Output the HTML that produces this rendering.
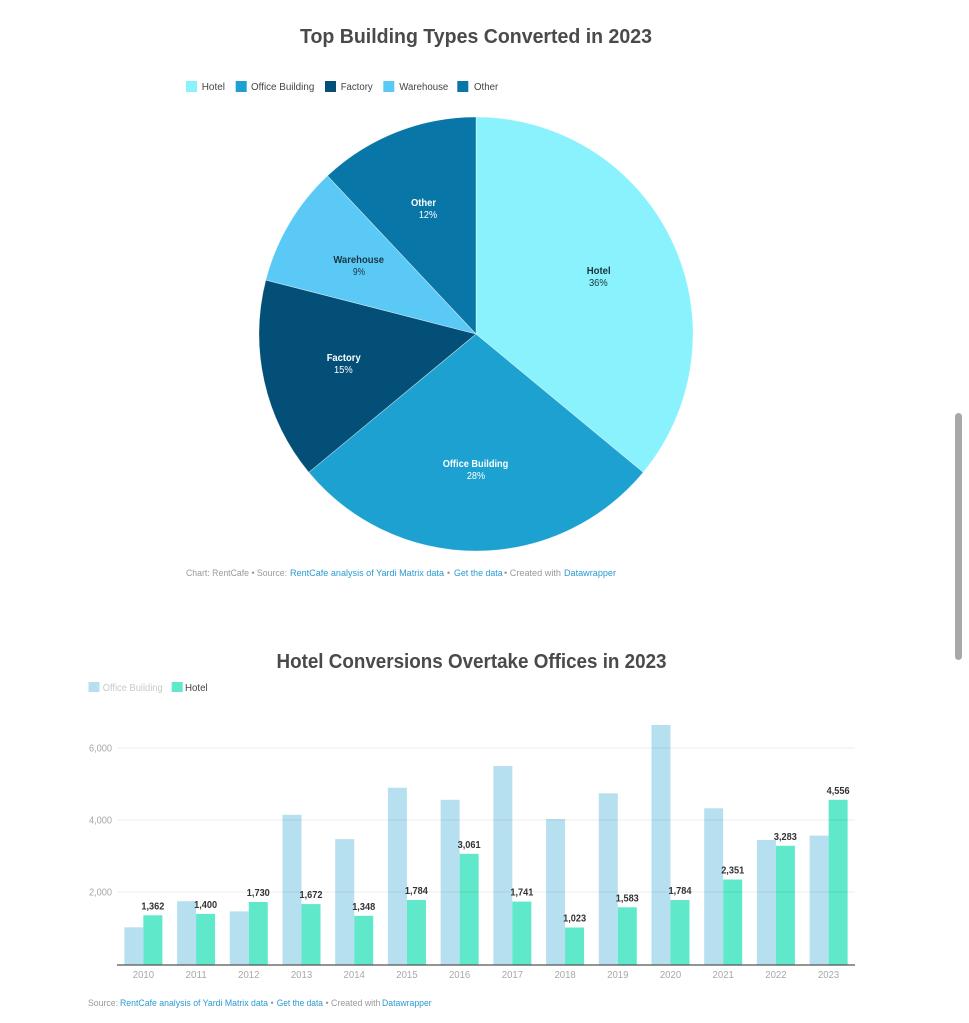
<!DOCTYPE html>
<html>
<head>
<meta charset="utf-8">
<style>
  html,body{margin:0;padding:0;background:#fff;}
  svg{display:block;}
  text{font-family:"Liberation Sans",Arial,sans-serif;}
</style>
</head>
<body>
<svg width="969" height="1023" viewBox="0 0 969 1023" xmlns="http://www.w3.org/2000/svg">
  <rect width="969" height="1023" fill="#fff"/>

  <!-- ===== Chart 1 ===== -->
  <text x="476" y="43" text-anchor="middle" font-size="20" font-weight="bold" fill="#4a4a4a" textLength="352" lengthAdjust="spacingAndGlyphs">Top Building Types Converted in 2023</text>

  <!-- legend -->
  <g font-size="10" fill="#444">
    <rect x="186" y="81" width="11" height="11" fill="#8af2fd"/>
    <text x="201.7" y="90" textLength="23.3" lengthAdjust="spacingAndGlyphs">Hotel</text>
    <rect x="235.7" y="81" width="11" height="11" fill="#1ca1d0"/>
    <text x="251" y="90" textLength="63.3" lengthAdjust="spacingAndGlyphs">Office Building</text>
    <rect x="325" y="81" width="11" height="11" fill="#044f78"/>
    <text x="340.7" y="90" textLength="32" lengthAdjust="spacingAndGlyphs">Factory</text>
    <rect x="383.3" y="81" width="11" height="11" fill="#5bc9f5"/>
    <text x="399.3" y="90" textLength="49" lengthAdjust="spacingAndGlyphs">Warehouse</text>
    <rect x="457.3" y="81" width="11" height="11" fill="#0876a7"/>
    <text x="474" y="90" textLength="24.3" lengthAdjust="spacingAndGlyphs">Other</text>
  </g>

  <!-- pie -->
  <g stroke="#ffffff" stroke-width="0.6" stroke-opacity="0.6">
    <path d="M476,334 L476,117 A217,217 0 0 1 643.22,472.32 Z" fill="#8af2fd"/>
    <path d="M476,334 L643.22,472.32 A217,217 0 0 1 308.78,472.32 Z" fill="#1ca1d0"/>
    <path d="M476,334 L308.78,472.32 A217,217 0 0 1 265.81,280.03 Z" fill="#044f78"/>
    <path d="M476,334 L265.81,280.03 A217,217 0 0 1 327.46,175.81 Z" fill="#5bc9f5"/>
    <path d="M476,334 L327.46,175.81 A217,217 0 0 1 476,117 Z" fill="#0876a7"/>
  </g>

  <!-- pie labels -->
  <g font-size="10" text-anchor="middle">
    <text x="598.7" y="274" font-weight="bold" fill="#1b3440" textLength="24" lengthAdjust="spacingAndGlyphs">Hotel</text>
    <text x="598.3" y="286" fill="#1b3440" textLength="18.7" lengthAdjust="spacingAndGlyphs">36%</text>

    <text x="475.5" y="467" font-weight="bold" fill="#ffffff" textLength="65.6" lengthAdjust="spacingAndGlyphs">Office Building</text>
    <text x="476" y="479" fill="#ffffff" textLength="18.3" lengthAdjust="spacingAndGlyphs">28%</text>

    <text x="343.7" y="361" font-weight="bold" fill="#ffffff" textLength="34" lengthAdjust="spacingAndGlyphs">Factory</text>
    <text x="343.3" y="373" fill="#ffffff" textLength="18.7" lengthAdjust="spacingAndGlyphs">15%</text>

    <text x="358.7" y="263" font-weight="bold" fill="#1b3440" textLength="50.7" lengthAdjust="spacingAndGlyphs">Warehouse</text>
    <text x="359" y="275" fill="#1b3440" textLength="12" lengthAdjust="spacingAndGlyphs">9%</text>

    <text x="423.5" y="206" font-weight="bold" fill="#ffffff" textLength="25" lengthAdjust="spacingAndGlyphs">Other</text>
    <text x="428" y="218" fill="#ffffff" textLength="18.3" lengthAdjust="spacingAndGlyphs">12%</text>
  </g>

  <!-- footer 1 -->
  <g font-size="9">
    <text x="186" y="576" fill="#999" textLength="101" lengthAdjust="spacingAndGlyphs">Chart: RentCafe • Source:</text>
    <text x="290" y="576" fill="#2b9ad2" textLength="154" lengthAdjust="spacingAndGlyphs">RentCafe analysis of Yardi Matrix data</text>
    <text x="447" y="576" fill="#999">•</text>
    <text x="454" y="576" fill="#2b9ad2" textLength="48.7" lengthAdjust="spacingAndGlyphs">Get the data</text>
    <text x="504" y="576" fill="#999" textLength="57" lengthAdjust="spacingAndGlyphs">• Created with</text>
    <text x="564" y="576" fill="#2b9ad2" textLength="52" lengthAdjust="spacingAndGlyphs">Datawrapper</text>
  </g>

  <!-- ===== Chart 2 ===== -->
  <text x="471.5" y="668" text-anchor="middle" font-size="20" font-weight="bold" fill="#4a4a4a" textLength="390" lengthAdjust="spacingAndGlyphs">Hotel Conversions Overtake Offices in 2023</text>

  <g font-size="10">
    <rect x="88.5" y="682" width="11" height="10" fill="#b6e0ef"/>
    <text x="102.7" y="691" fill="#c8c8c8" textLength="60" lengthAdjust="spacingAndGlyphs">Office Building</text>
    <rect x="171.7" y="682" width="11" height="10" fill="#5fe8c9"/>
    <text x="185" y="691" fill="#444" textLength="22.7" lengthAdjust="spacingAndGlyphs">Hotel</text>
  </g>

  <!-- bars: office (c-19..c), hotel (c..c+19), baseline 964.5 -->
  <g fill="#b6e0ef">
    <rect x="124.36" y="927.3" width="19" height="37.2"/>
    <rect x="177.07" y="901.2" width="19" height="63.3"/>
    <rect x="229.78" y="911.4" width="19" height="53.1"/>
    <rect x="282.50" y="814.8" width="19" height="149.7"/>
    <rect x="335.21" y="839.1" width="19" height="125.4"/>
    <rect x="387.92" y="787.7" width="19" height="176.8"/>
    <rect x="440.64" y="799.8" width="19" height="164.7"/>
    <rect x="493.35" y="766.0" width="19" height="198.5"/>
    <rect x="546.06" y="819.0" width="19" height="145.5"/>
    <rect x="598.78" y="793.3" width="19" height="171.2"/>
    <rect x="651.49" y="725.0" width="19" height="239.5"/>
    <rect x="704.20" y="808.3" width="19" height="156.2"/>
    <rect x="756.92" y="840.0" width="19" height="124.5"/>
    <rect x="809.63" y="835.6" width="19" height="128.9"/>
  </g>
  <g fill="#5fe8c9">
    <rect x="143.36" y="915.3" width="19" height="49.2"/>
    <rect x="196.07" y="913.9" width="19" height="50.6"/>
    <rect x="248.78" y="902.0" width="19" height="62.5"/>
    <rect x="301.50" y="904.1" width="19" height="60.4"/>
    <rect x="354.21" y="915.8" width="19" height="48.7"/>
    <rect x="406.92" y="900.0" width="19" height="64.5"/>
    <rect x="459.64" y="853.8" width="19" height="110.7"/>
    <rect x="512.35" y="901.6" width="19" height="62.9"/>
    <rect x="565.06" y="927.5" width="19" height="37.0"/>
    <rect x="617.78" y="907.3" width="19" height="57.2"/>
    <rect x="670.49" y="900.0" width="19" height="64.5"/>
    <rect x="723.20" y="879.5" width="19" height="85.0"/>
    <rect x="775.92" y="845.8" width="19" height="118.7"/>
    <rect x="828.63" y="799.8" width="19" height="164.7"/>
  </g>

  <!-- gridlines (drawn over bars, faint) -->
  <g stroke="#000" stroke-opacity="0.07" stroke-width="1">
    <line x1="118" y1="748" x2="855" y2="748"/>
    <line x1="118" y1="820" x2="855" y2="820"/>
    <line x1="118" y1="892" x2="855" y2="892"/>
  </g>
  <g font-size="10" fill="#a6a6a6" text-anchor="end">
    <text x="112" y="751.5" textLength="23" lengthAdjust="spacingAndGlyphs">6,000</text>
    <text x="112" y="823.5" textLength="23" lengthAdjust="spacingAndGlyphs">4,000</text>
    <text x="112" y="895.5" textLength="23" lengthAdjust="spacingAndGlyphs">2,000</text>
  </g>

  <!-- value labels -->
  <g font-size="10" font-weight="bold" fill="#333" text-anchor="middle">
    <text x="152.9" y="909.3" textLength="23" lengthAdjust="spacingAndGlyphs">1,362</text>
    <text x="205.6" y="907.9" textLength="23" lengthAdjust="spacingAndGlyphs">1,400</text>
    <text x="258.3" y="896.0" textLength="23" lengthAdjust="spacingAndGlyphs">1,730</text>
    <text x="311.0" y="898.1" textLength="23" lengthAdjust="spacingAndGlyphs">1,672</text>
    <text x="363.7" y="909.8" textLength="23" lengthAdjust="spacingAndGlyphs">1,348</text>
    <text x="416.4" y="894.0" textLength="23" lengthAdjust="spacingAndGlyphs">1,784</text>
    <text x="469.1" y="847.8" textLength="23" lengthAdjust="spacingAndGlyphs">3,061</text>
    <text x="521.9" y="895.6" textLength="23" lengthAdjust="spacingAndGlyphs">1,741</text>
    <text x="574.6" y="921.5" textLength="23" lengthAdjust="spacingAndGlyphs">1,023</text>
    <text x="627.3" y="901.3" textLength="23" lengthAdjust="spacingAndGlyphs">1,583</text>
    <text x="680.0" y="894.0" textLength="23" lengthAdjust="spacingAndGlyphs">1,784</text>
    <text x="732.7" y="873.5" textLength="23" lengthAdjust="spacingAndGlyphs">2,351</text>
    <text x="785.4" y="839.8" textLength="23" lengthAdjust="spacingAndGlyphs">3,283</text>
    <text x="838.1" y="793.8" textLength="23" lengthAdjust="spacingAndGlyphs">4,556</text>
  </g>

  <!-- axis -->
  <line x1="117" y1="965" x2="855" y2="965" stroke="#555" stroke-width="1.3"/>

  <!-- x labels -->
  <g font-size="10" fill="#a8a8a8" text-anchor="middle">
    <text x="143.4" y="978" textLength="21.3" lengthAdjust="spacingAndGlyphs">2010</text>
    <text x="196.1" y="978" textLength="21.3" lengthAdjust="spacingAndGlyphs">2011</text>
    <text x="248.8" y="978" textLength="21.3" lengthAdjust="spacingAndGlyphs">2012</text>
    <text x="301.5" y="978" textLength="21.3" lengthAdjust="spacingAndGlyphs">2013</text>
    <text x="354.2" y="978" textLength="21.3" lengthAdjust="spacingAndGlyphs">2014</text>
    <text x="406.9" y="978" textLength="21.3" lengthAdjust="spacingAndGlyphs">2015</text>
    <text x="459.6" y="978" textLength="21.3" lengthAdjust="spacingAndGlyphs">2016</text>
    <text x="512.4" y="978" textLength="21.3" lengthAdjust="spacingAndGlyphs">2017</text>
    <text x="565.1" y="978" textLength="21.3" lengthAdjust="spacingAndGlyphs">2018</text>
    <text x="617.8" y="978" textLength="21.3" lengthAdjust="spacingAndGlyphs">2019</text>
    <text x="670.5" y="978" textLength="21.3" lengthAdjust="spacingAndGlyphs">2020</text>
    <text x="723.2" y="978" textLength="21.3" lengthAdjust="spacingAndGlyphs">2021</text>
    <text x="775.9" y="978" textLength="21.3" lengthAdjust="spacingAndGlyphs">2022</text>
    <text x="828.6" y="978" textLength="21.3" lengthAdjust="spacingAndGlyphs">2023</text>
  </g>

  <!-- footer 2 -->
  <g font-size="9">
    <text x="88" y="1006" fill="#999" textLength="30" lengthAdjust="spacingAndGlyphs">Source:</text>
    <text x="120" y="1006" fill="#2b9ad2" textLength="148" lengthAdjust="spacingAndGlyphs">RentCafe analysis of Yardi Matrix data</text>
    <text x="270.5" y="1006" fill="#999">•</text>
    <text x="276.7" y="1006" fill="#2b9ad2" textLength="46.3" lengthAdjust="spacingAndGlyphs">Get the data</text>
    <text x="325.5" y="1006" fill="#999" textLength="55" lengthAdjust="spacingAndGlyphs">• Created with</text>
    <text x="382" y="1006" fill="#2b9ad2" textLength="49.7" lengthAdjust="spacingAndGlyphs">Datawrapper</text>
  </g>

  <!-- scrollbar -->
  <rect x="955" y="413" width="7" height="247" rx="3.5" fill="#a8a8a8"/>
</svg>
</body>
</html>
